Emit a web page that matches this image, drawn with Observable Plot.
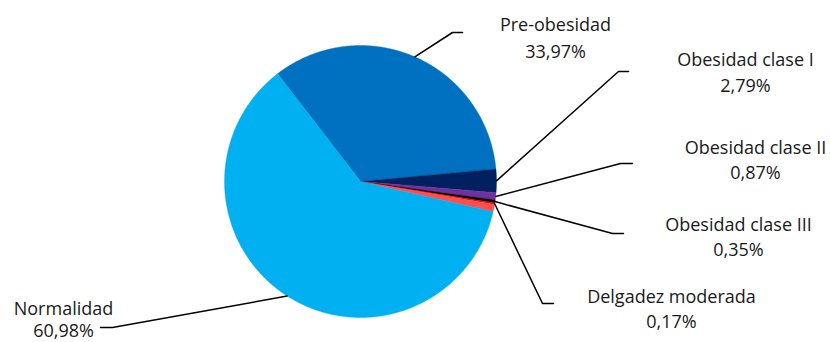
<!DOCTYPE html>
<html><head><meta charset="utf-8">
<script src="https://cdn.jsdelivr.net/npm/d3@7"></script>
<script src="https://cdn.jsdelivr.net/npm/@observablehq/plot@0.6"></script>
<style>body{margin:0;background:#fff}</style>
</head><body><div id="chart"></div>
<script>
// ---- data ----
const categories = ["Pre-obesidad", "Obesidad clase I", "Obesidad clase II", "Obesidad clase III", "Delgadez moderada", "(sin etiqueta)", "Normalidad"];
const values = [33.97, 2.79, 0.87, 0.35, 0.17, 0.87, 60.98];
const showLabel = [true, true, true, true, true, false, true];

// ---- style ----
const colors = ["#0070C0", "#002060", "#7030A0", "#000000", "#FF0000", "#FF5050", "#00B0F0"];
const FS = 18;

// ---- layout ----
const W = 830, H = 342, CX = 360, CY = 181, R = 136, START_DEG = -37.6;
const labelLayout = {
  "Pre-obesidad":       {elbow: [452, 32],  end: [462, 32],  x: 555, b1: 30,  b2: 57},
  "Obesidad clase I":   {elbow: [618, 71],  end: [628, 71],  x: 745, b1: 65,  b2: 91},
  "Obesidad clase II":  {elbow: [620, 163], end: [632, 163], x: 755, b1: 153, b2: 178},
  "Obesidad clase III": {elbow: [612, 233], end: [623, 233], x: 738, b1: 230, b2: 255},
  "Delgadez moderada":  {elbow: [542, 303], end: [553, 303], x: 671, b1: 302, b2: 327},
  "Normalidad":         {elbow: [112, 327], end: [100, 327], x: 63,  b1: 314, b2: 336}
};

const locale = d3.formatLocale({decimal: ",", thousands: ".", grouping: [3], currency: ["", "€"]});
const fmt = locale.format(".2f");

const data = categories.map((name, i) => ({name, value: values[i], labeled: showLabel[i]}));
const a0 = START_DEG * Math.PI / 180;
const arcs = d3.pie().sort(null).value(d => d.value).startAngle(a0).endAngle(a0 + 2 * Math.PI)(data);
const polar = (a, r) => [CX + r * Math.sin(a), CY - r * Math.cos(a)];

const slicePts = arcs.flatMap(a => {
  const name = a.data.name;
  const pts = [{name, p: [CX, CY]}];
  const n = Math.max(2, Math.ceil((a.endAngle - a.startAngle) / (Math.PI / 720)));
  for (let k = 0; k <= n; k++) {
    const t = a.startAngle + (a.endAngle - a.startAngle) * k / n;
    pts.push({name, p: polar(t, R)});
  }
  pts.push({name, p: [CX, CY]});
  return pts;
});

const labeledArcs = arcs.filter(a => a.data.labeled);
const leaderPts = labeledArcs.flatMap(a => {
  const L = labelLayout[a.data.name];
  const mid = (a.startAngle + a.endAngle) / 2;
  return [
    {name: a.data.name, p: polar(mid, R)},
    {name: a.data.name, p: L.elbow},
    {name: a.data.name, p: L.end}
  ];
});
const labelRows = labeledArcs.map(a => ({
  name: a.data.name,
  pct: fmt(a.data.value) + "%",
  ...labelLayout[a.data.name]
}));

const chart = Plot.plot({
  width: W, height: H,
  margin: 0,
  x: {domain: [0, W], range: [0, W], axis: null},
  y: {domain: [0, H], range: [0, H], axis: null},
  color: {domain: categories, range: colors},
  style: {fontFamily: "'Open Sans', sans-serif", background: "#fff", overflow: "visible"},
  marks: [
    Plot.line(slicePts, {x: d => d.p[0], y: d => d.p[1], z: "name", fill: "name", stroke: "name", strokeWidth: 0.4, curve: "linear"}),
    Plot.line(leaderPts, {x: d => d.p[0], y: d => d.p[1], z: "name", stroke: "#000", strokeWidth: 1.5, curve: "linear"}),
    Plot.text(labelRows, {x: "x", y: d => d.b1 - 0.32 * FS, text: "name", fontSize: FS, fill: "#1a1a1a", textAnchor: "middle"}),
    Plot.text(labelRows, {x: "x", y: d => d.b2 - 0.32 * FS, text: "pct", fontSize: FS, fill: "#1a1a1a", textAnchor: "middle"})
  ]
});
document.getElementById("chart").appendChild(chart);
</script>
</body></html>
